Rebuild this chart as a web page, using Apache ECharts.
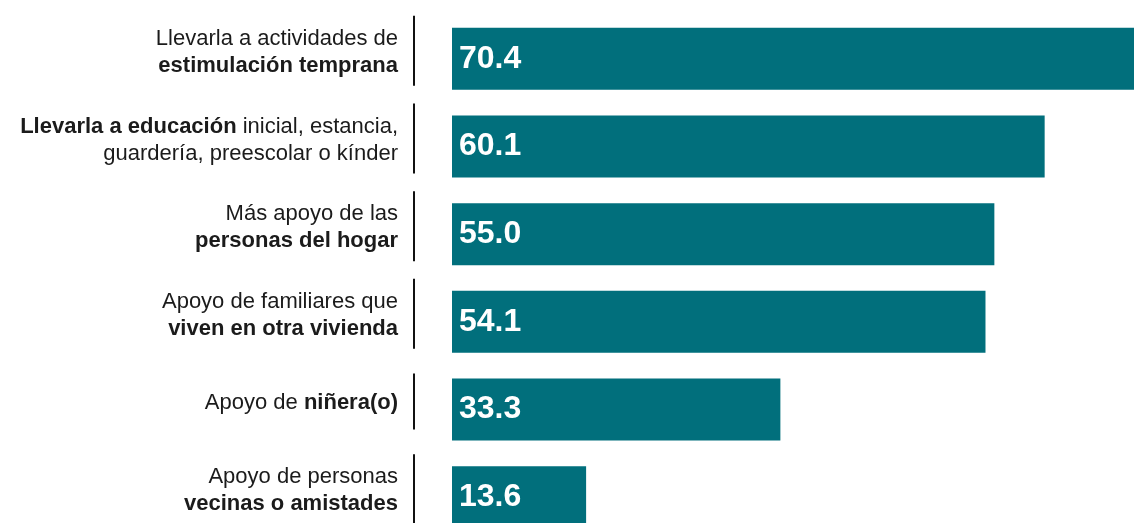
<!DOCTYPE html>
<html>
<head>
<meta charset="utf-8">
<script src="https://cdn.jsdelivr.net/npm/echarts@6/dist/echarts.min.js"></script>
<style>
  html, body { margin: 0; padding: 0; overflow: hidden; background: #fff; }
  #chart { width: 1162px; height: 542px; }
</style>
</head>
<body>
<div id="chart"></div>
<script>
// categories, top to bottom
const categories = [
  "Llevarla a actividades de estimulación temprana",
  "Llevarla a educación inicial, estancia, guardería, preescolar o kínder",
  "Más apoyo de las personas del hogar",
  "Apoyo de familiares que viven en otra vivienda",
  "Apoyo de niñera(o)",
  "Apoyo de personas vecinas o amistades"
]
// axis labels with bold parts marked
const tickLabels = [
  "{n|Llevarla a actividades de}\n{b|estimulación temprana}",
  "{b|Llevarla a educación}{n| inicial, estancia,}\n{n|guardería, preescolar o kínder}",
  "{n|Más apoyo de las}\n{b|personas del hogar}",
  "{n|Apoyo de familiares que}\n{b|viven en otra vivienda}",
  "{n|Apoyo de }{b|niñera(o)}",
  "{n|Apoyo de personas}\n{b|vecinas o amistades}"
]
const values = [70.4, 60.1, 55.0, 54.1, 33.3, 13.6]

const chart = echarts.init(document.getElementById("chart"))
const font = "'Liberation Sans', Arial, sans-serif"

chart.setOption({
  animation: false,
  backgroundColor: "#fff",
  grid: {
    left: 452,
    top: 15,
    width: 710,
    height: 526
  },
  xAxis: {
    type: "value",
    min: 0,
    max: 72,
    show: false
  },
  yAxis: {
    type: "category",
    inverse: true,
    data: categories,
    axisLine: { show: false },
    axisTick: { show: false },
    splitLine: { show: false },
    axisLabel: {
      margin: 54,
      padding: [0, 0, 13, 0],
      formatter: (v, i) => tickLabels[i],
      rich: {
        n: { fontFamily: font, fontSize: 22, color: "#1b1b1b", lineHeight: 27 },
        b: { fontFamily: font, fontSize: 22, color: "#1b1b1b", fontWeight: "bold", lineHeight: 27 }
      }
    }
  },
  series: [
    {
      type: "bar",
      data: values,
      barWidth: 62,
      itemStyle: { color: "#016f7c" },
      label: {
        show: true,
        position: "insideLeft",
        distance: 7,
        formatter: p => p.value.toFixed(1),
        fontFamily: font,
        fontSize: 32,
        fontWeight: "bold",
        color: "#fff"
      }
    },
    {
      // divider line beside each label
      type: "custom",
      silent: true,
      data: categories.map((c, i) => [0, i]),
      renderItem(params, api) {
        const p = api.coord([0, api.value(1)])
        const lines = tickLabels[params.dataIndex].indexOf("\n") >= 0 ? 2 : 1
        const len = lines === 2 ? 70 : 56
        const cy = p[1] - 8
        return {
          type: "line",
          shape: { x1: p[0] - 38, y1: cy - len / 2, x2: p[0] - 38, y2: cy + len / 2 },
          style: { stroke: "#111", lineWidth: 2 }
        }
      }
    }
  ]
})
</script>
</body>
</html>
